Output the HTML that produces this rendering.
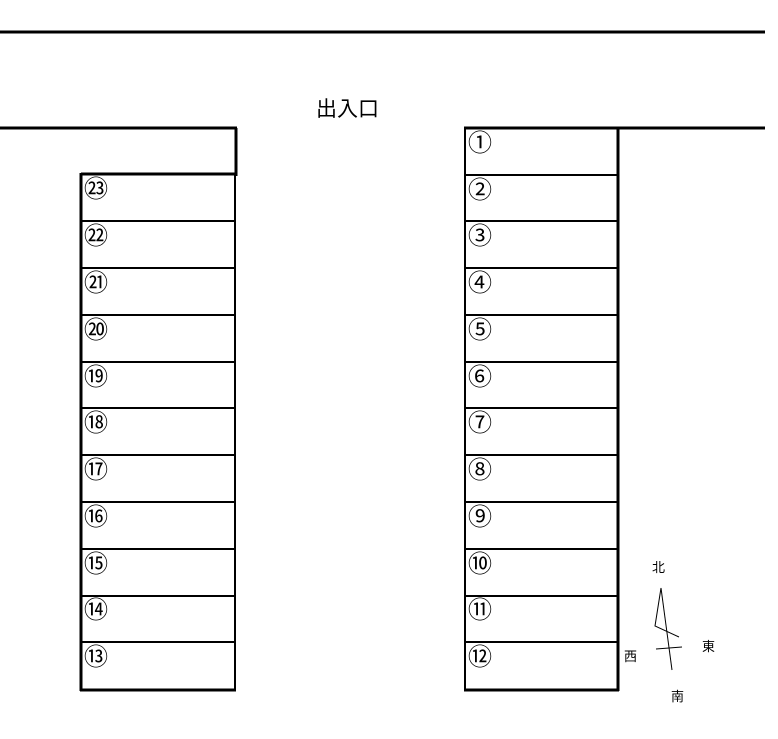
<!DOCTYPE html>
<html><head><meta charset="utf-8"><style>
html,body{margin:0;padding:0;background:#fff}
text{font-family:"Liberation Sans","Noto Sans CJK JP",sans-serif;fill:#000}
</style></head><body>
<svg width="778" height="734" xmlns="http://www.w3.org/2000/svg">
<g stroke="#000" fill="none">
<line x1="0" y1="32" x2="765" y2="32" stroke-width="3"/>
<line x1="0" y1="128" x2="237" y2="128" stroke-width="3"/>
<line x1="236" y1="128" x2="236" y2="176" stroke-width="3"/>
<line x1="81" y1="174" x2="236" y2="174" stroke-width="3"/>
<line x1="81" y1="173" x2="81" y2="691" stroke-width="3"/>
<line x1="235" y1="174" x2="235" y2="690" stroke-width="2"/>
<line x1="80" y1="690" x2="236" y2="690" stroke-width="3"/>
<line x1="464" y1="128" x2="765" y2="128" stroke-width="3"/>
<line x1="465" y1="128" x2="465" y2="690" stroke-width="2"/>
<line x1="618" y1="128" x2="618" y2="691" stroke-width="3"/>
<line x1="464" y1="690" x2="619" y2="690" stroke-width="3"/>
<g stroke-width="2">
<line x1="81" y1="221" x2="235" y2="221"/><line x1="81" y1="268" x2="235" y2="268"/>
<line x1="81" y1="315" x2="235" y2="315"/><line x1="81" y1="362" x2="235" y2="362"/>
<line x1="81" y1="408" x2="235" y2="408"/><line x1="81" y1="455" x2="235" y2="455"/>
<line x1="81" y1="502" x2="235" y2="502"/><line x1="81" y1="549" x2="235" y2="549"/>
<line x1="81" y1="596" x2="235" y2="596"/><line x1="81" y1="642" x2="235" y2="642"/>
<line x1="465" y1="175" x2="618" y2="175"/><line x1="465" y1="221" x2="618" y2="221"/>
<line x1="465" y1="268" x2="618" y2="268"/><line x1="465" y1="315" x2="618" y2="315"/>
<line x1="465" y1="362" x2="618" y2="362"/><line x1="465" y1="408" x2="618" y2="408"/>
<line x1="465" y1="455" x2="618" y2="455"/><line x1="465" y1="502" x2="618" y2="502"/>
<line x1="465" y1="549" x2="618" y2="549"/><line x1="465" y1="596" x2="618" y2="596"/>
<line x1="465" y1="642" x2="618" y2="642"/>
</g>
<g stroke-width="1">
<polyline points="661,588 672,670"/>
<polyline points="661,588 655,626 679,637"/>
<line x1="656" y1="649" x2="682" y2="647"/>
</g>
</g>
<text x="316" y="116" font-size="21">出入口</text>
<g font-size="24">
<text x="84" y="197">㉓</text><text x="84" y="244">㉒</text><text x="84" y="291">㉑</text>
<text x="84" y="338">⑳</text><text x="84" y="385">⑲</text><text x="84" y="431">⑱</text>
<text x="84" y="478">⑰</text><text x="84" y="525">⑯</text><text x="84" y="572">⑮</text>
<text x="84" y="618">⑭</text><text x="84" y="665">⑬</text>
<text x="468" y="151">①</text><text x="468" y="198">②</text><text x="468" y="244">③</text>
<text x="468" y="291">④</text><text x="468" y="338">⑤</text><text x="468" y="385">⑥</text>
<text x="468" y="431">⑦</text><text x="468" y="478">⑧</text><text x="468" y="525">⑨</text>
<text x="468" y="572">⑩</text><text x="468" y="618">⑪</text><text x="468" y="665">⑫</text>
</g>
<g font-size="13">
<text x="652" y="572">北</text><text x="702" y="651">東</text>
<text x="624" y="661">西</text><text x="671" y="701">南</text>
</g>
</svg>
</body></html>
